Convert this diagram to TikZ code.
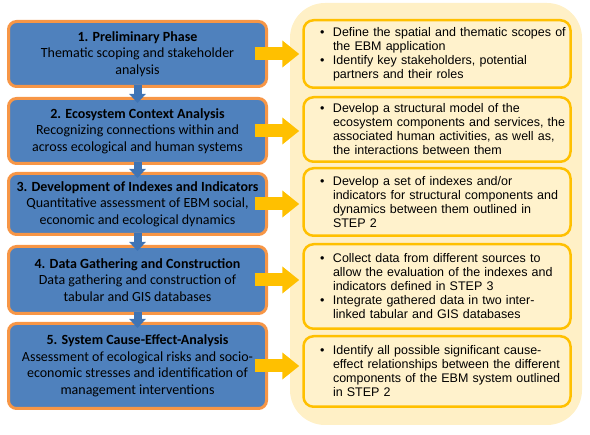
\documentclass[tikz,border=0pt]{standalone}
\usepackage{fontspec}
\setmainfont{Carlito}
\newfontfamily\notefont{Liberation Sans}
\usetikzlibrary{arrows.meta}

\definecolor{stepblue}{HTML}{4F81BD}
\definecolor{steporange}{HTML}{F79646}
\definecolor{arrowblue}{HTML}{3F74B5}
\definecolor{notegold}{HTML}{FFC000}
\definecolor{notefill}{HTML}{FFF2CC}
\definecolor{panelfill}{HTML}{FFF0C6}

\newcommand{\bul}{\hspace*{12pt}\makebox[13pt][l]{\textbullet}}
\newcommand{\ind}{\hspace*{25pt}}

\begin{document}
\begin{tikzpicture}[x=1pt, y=-1pt,
  stepbox/.style={draw=steporange, line width=3pt, fill=stepblue, rounded corners=8pt,
    minimum width=258pt, align=center, font=\fontsize{14}{16.5}\selectfont},
  notebox/.style={draw=notegold, line width=2.5pt, fill=notefill, rounded corners=10pt,
    text width=258pt, inner xsep=4.5pt, align=left, font=\notefont\fontsize{12.5}{14}\selectfont},
  downarrow/.style={draw=arrowblue, line width=8pt, -{Triangle[width=16pt,length=9pt]}},
  sidearrow/.style={draw=notegold, line width=13pt, -{Triangle[width=26pt,length=17pt]}}]
% Fix the page size
\useasboundingbox (0,0) rectangle (590,435);
% Draw the background panel
\fill[panelfill, rounded corners=35pt] (290,3) rectangle (582,425);
% Draw the steps
\node[stepbox, minimum height=65pt] (s1) at (137.5,54) {\textbf{1. Preliminary Phase}\\Thematic scoping and stakeholder\\analysis};
\node[stepbox, minimum height=65pt] (s2) at (137.5,131) {\textbf{2. Ecosystem Context Analysis}\\Recognizing connections within and\\across ecological and human systems};
\node[stepbox, minimum height=61pt] (s3) at (137.5,204) {\textbf{3. Development of Indexes and Indicators}\\Quantitative assessment of EBM social,\\economic and ecological dynamics};
\node[stepbox, minimum height=67pt] (s4) at (137.5,280) {\textbf{4. Data Gathering and Construction}\\Data gathering and construction of\\tabular and GIS databases};
\node[stepbox, minimum height=85pt] (s5) at (137.5,366) {\textbf{5. System Cause-Effect-Analysis}\\Assessment of ecological risks and socio-\\economic stresses and identification of\\management interventions};
% Draw the notes
\node[notebox, minimum height=67.5pt] (r1) at (437,54) {\bul Define the spatial and thematic scopes of\\\ind the EBM application\\\bul Identify key stakeholders, potential\\\ind partners and their roles};
\node[notebox, minimum height=64.5pt] (r2) at (437,129.5) {\bul Develop a structural model of the\\\ind ecosystem components and services, the\\\ind associated human activities, as well as,\\\ind the interactions between them};
\node[notebox, minimum height=67.5pt] (r3) at (437,202) {\bul Develop a set of indexes and/or\\\ind indicators for structural components and\\\ind dynamics between them outlined in\\\ind STEP 2};
\node[notebox, minimum height=84.5pt] (r4) at (437,286.5) {\bul Collect data from different sources to\\\ind allow the evaluation of the indexes and\\\ind indicators defined in STEP 3\\\bul Integrate gathered data in two inter-\\\ind linked tabular and GIS databases};
\node[notebox, minimum height=70.5pt] (r5) at (437,371.5) {\bul Identify all possible significant cause-\\\ind effect relationships between the different\\\ind components of the EBM system outlined\\\ind in STEP 2};
% Draw the arrows between the steps
\foreach \a/\b in {s1/s2,s2/s3,s3/s4,s4/s5}
  \draw[downarrow] ([yshift=3pt]\a.south) -- ([yshift=-6pt]\b.north);
% Draw the arrows to the notes
\foreach \n in {1,...,5}
  \draw[sidearrow] ([xshift=-13.5pt]s\n.east) -- ([xshift=-3pt]r\n.west |- s\n.east);
\end{tikzpicture}
\end{document}
